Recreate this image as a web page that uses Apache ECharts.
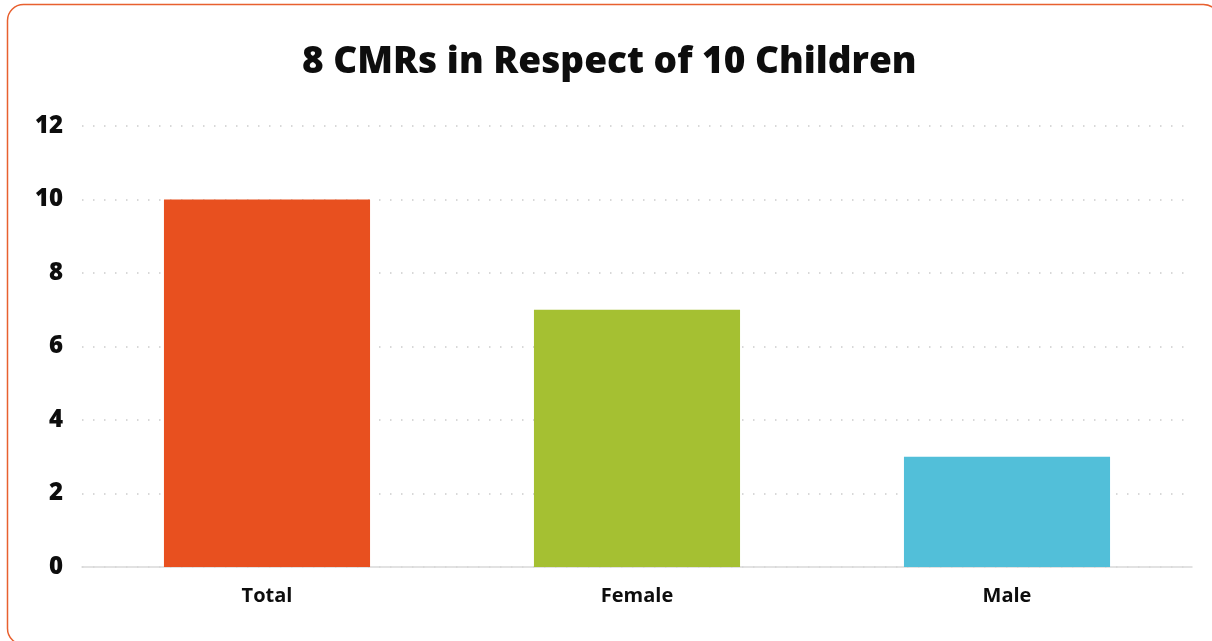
<!DOCTYPE html>
<html>
<head>
<meta charset="utf-8">
<title>8 CMRs in Respect of 10 Children</title>
<script src="https://cdn.jsdelivr.net/npm/echarts@6/dist/echarts.min.js"></script>
<style>
  html, body { margin: 0; padding: 0; background: #ffffff; }
  #chart { width: 1212px; height: 641px; }
</style>
</head>
<body>
<div id="chart"></div>
<script>
// Chart data
const titleText = '8 CMRs in Respect of 10 Children';
const categories = ['Total', 'Female', 'Male'];
const values = [10, 7, 3];
const barColors = ['#E8501F', '#A5C032', '#52BFD9'];
const yTicks = { min: 0, max: 12, interval: 2 };

const FONT = '"Open Sans", "Noto Sans", sans-serif';

const chart = echarts.init(document.getElementById('chart'), null, { renderer: 'canvas' });

chart.setOption({
  backgroundColor: '#ffffff',
  animation: false,
  title: {
    text: titleText,
    left: 297,
    top: 39,
    textStyle: { fontFamily: FONT, fontWeight: 800, fontSize: 37, color: '#0d0d0d' }
  },
  graphic: [{
    type: 'rect',
    silent: true,
    shape: { x: 7.5, y: 4.5, width: 1212, height: 640, r: 16 },
    style: { fill: 'none', stroke: '#E8602F', lineWidth: 1.5 }
  }],
  grid: { left: 82, right: 20, top: 126, bottom: 74, containLabel: false },
  xAxis: {
    type: 'category',
    data: categories,
    axisLine: { show: true, lineStyle: { color: '#d9d9d9', width: 1.5 } },
    axisTick: { show: false },
    axisLabel: {
      margin: 19,
      fontFamily: FONT, fontWeight: 'bold', fontSize: 20, color: '#0d0d0d'
    }
  },
  yAxis: {
    type: 'value',
    min: yTicks.min,
    max: yTicks.max,
    interval: yTicks.interval,
    axisLine: { show: false },
    axisTick: { show: false },
    axisLabel: {
      margin: 19,
      fontFamily: FONT, fontWeight: 800, fontSize: 24, color: '#0d0d0d'
    },
    splitLine: {
      show: true,
      lineStyle: { color: '#cccccc', width: 1.5, type: [1.5, 9.5] }
    }
  },
  series: [{
    type: 'bar',
    data: values.map((v, i) => ({ value: v, itemStyle: { color: barColors[i] } })),
    barWidth: '55.7%'
  }]
});
</script>
</body>
</html>
